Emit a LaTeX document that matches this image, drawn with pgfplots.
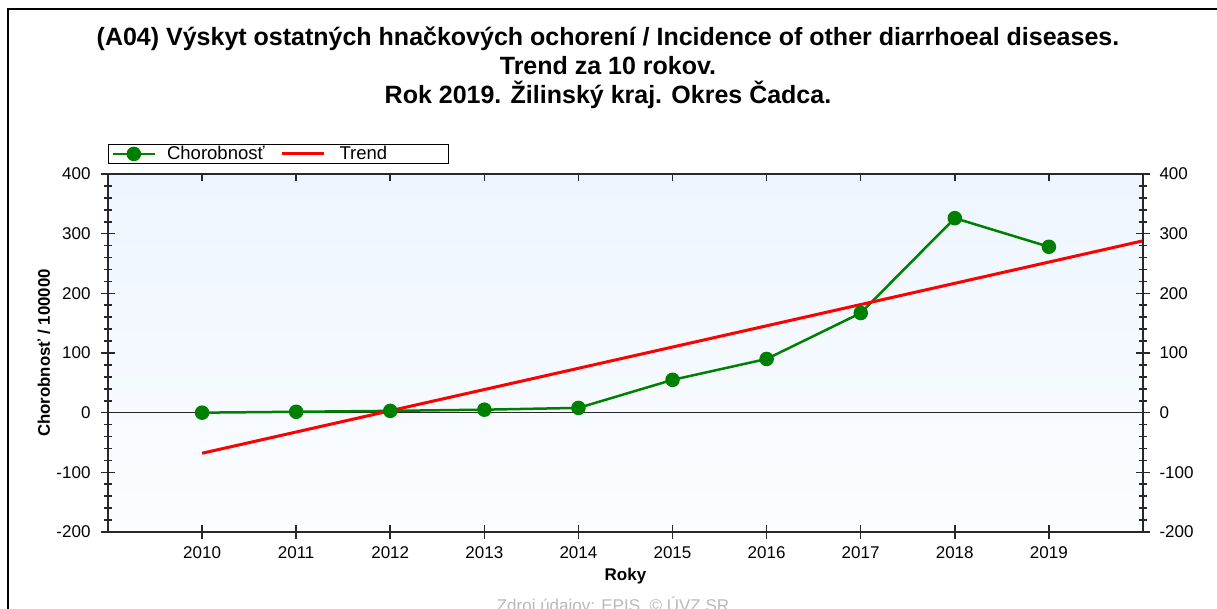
\documentclass[border=0pt]{standalone}
\usepackage{fontspec}
\setmainfont{Liberation Sans}
\usepackage{pgfplots}
\pgfplotsset{compat=1.18}
\definecolor{cgreen}{RGB}{0,128,0}
\definecolor{cred}{RGB}{255,0,0}
\definecolor{bgtop}{RGB}{237,245,254}
\definecolor{bgbot}{RGB}{251,253,255}
\definecolor{axcol}{RGB}{40,40,40}
\definecolor{footgray}{RGB}{185,185,185}
\pgfplotsset{
  common/.style={
    at={(108pt,76pt)}, anchor=south west, width=1035pt, height=358pt, scale only axis,
    xmin=2009, xmax=2020, ymin=-200, ymax=400,
    xtick={2010,...,2019}, ytick={-200,-100,...,400},
    axis line style={axcol, line width=1.8pt},
    every tick/.style={axcol, line width=1.6pt},
    /pgf/number format/assume math mode=true,
    /pgf/number format/1000 sep={},
    tick label style={font=\fontsize{17}{20}\selectfont, black},
  }
}
\begin{document}
\begin{tikzpicture}[x=1pt,y=1pt]
\clip (0,0) rectangle (1217,608);
\fill[white] (0,0) rectangle (1217,608);
\draw[line width=2pt] (8,-5) -- (8,599) -- (1230,599);
\node[font=\fontsize{25}{30}\selectfont\bfseries, anchor=base] at (608,562) {(A04) Výskyt ostatných hnačkových ochorení / Incidence of other diarrhoeal diseases.};
\node[font=\fontsize{25}{30}\selectfont\bfseries, anchor=base] at (608,533) {Trend za 10 rokov.};
\node[font=\fontsize{25}{30}\selectfont\bfseries, anchor=base] at (608,504) {Rok 2019. Žilinský kraj. Okres Čadca.};
\node[font=\fontsize{17}{20}\selectfont, text=footgray, anchor=north] at (613,15) {Zdroj údajov: EPIS. © ÚVZ SR};

\begin{axis}[common,
  xtick pos=bottom, ytick pos=left,
  minor y tick num=4,
  tick align=center,
  major tick length=14pt, minor tick length=8pt,
  xticklabel style={yshift=-4pt},
  yticklabel style={xshift=-7pt},
  xlabel={\textbf{Roky}},
  ylabel={\textbf{Chorobnosť / 100000}},
  every axis x label/.style={at={(axis description cs:0.5,0)}, anchor=center, yshift=-44pt, font=\fontsize{17}{20}\selectfont},
  every axis y label/.style={at={(axis description cs:0,0.5)}, anchor=center, xshift=-64pt, rotate=90, font=\fontsize{16.8}{20}\selectfont},
  axis background/.style={top color=bgtop, bottom color=bgbot},
  legend columns=2,
  legend style={at={(0,1)}, anchor=south west, yshift=10pt, draw=black, line width=1.2pt,
    font=\fontsize{18.5}{21}\selectfont, inner xsep=3pt, inner ysep=0pt,
    /tikz/every even column/.append style={column sep=14pt}},
  legend image code/.code={\draw[mark repeat=2,mark phase=2,#1] plot coordinates {(0pt,0pt) (21pt,0pt) (42pt,0pt)};},
]
\addplot[axcol, line width=1.2pt, forget plot] coordinates {(2009,0) (2020,0)};
\addplot[cgreen, line width=2.5pt, mark=*, mark size=6pt, mark options={solid}] coordinates {
 (2010,0) (2011,1.5) (2012,3) (2013,5) (2014,8) (2015,55) (2016,90) (2017,167) (2018,326) (2019,278)};
\addlegendentry{\hspace{9pt}Chorobnosť}
\addplot[cred, line width=3pt] coordinates {(2010,-68) (2020,288)};
\addlegendentry{\hspace{12pt}Trend\hspace*{56pt}\mbox{}}
\end{axis}

\begin{axis}[common,
  hide y axis, axis x line*=top, xticklabels={},
  tick align=inside, major tick length=7pt,
]
\end{axis}

\begin{axis}[common,
  hide x axis, axis y line*=right, yticklabel pos=right,
  yticklabel style={xshift=6pt},
  minor y tick num=4,
  tick align=center, major tick length=14pt, minor tick length=8pt,
]
\end{axis}
\end{tikzpicture}
\end{document}
